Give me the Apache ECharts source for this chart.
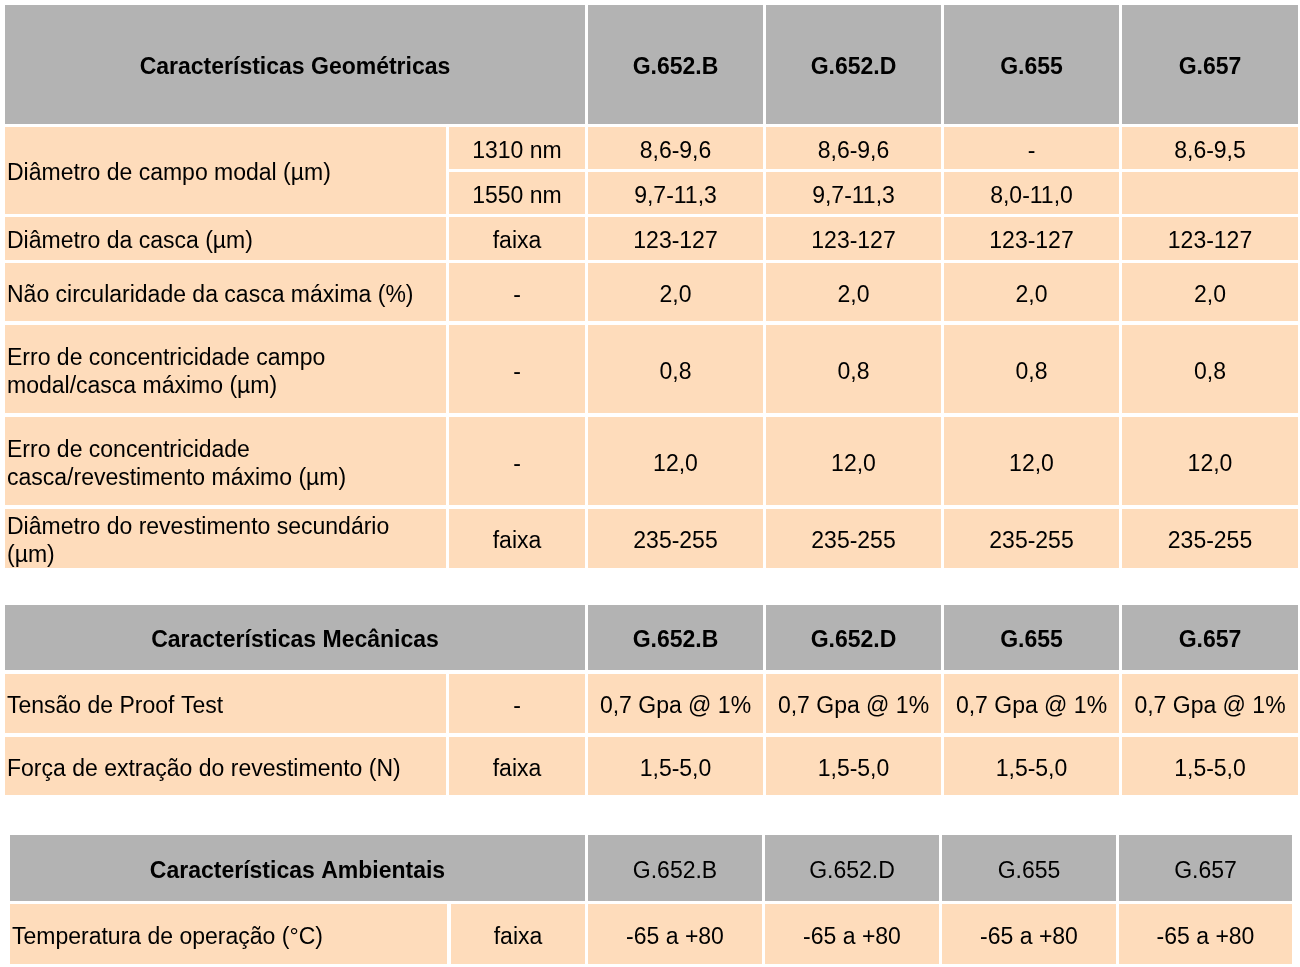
<!DOCTYPE html>
<html>
<head>
<meta charset="utf-8">
<script src="https://cdn.jsdelivr.net/npm/echarts@6/dist/echarts.min.js"></script>
<style>
  html, body { margin: 0; padding: 0; background: #fff; }
  #chart { width: 1300px; height: 967px; }
</style>
</head>
<body>
<div id="chart"></div>
<script>
// table contents
const models = ["G.652.B", "G.652.D", "G.655", "G.657"];

const geoTitle = "Características Geométricas";
const geoRows = [
  ["Diâmetro de campo modal (µm)", "1310 nm", "8,6-9,6", "8,6-9,6", "-", "8,6-9,5"],
  [null, "1550 nm", "9,7-11,3", "9,7-11,3", "8,0-11,0", ""],
  ["Diâmetro da casca (µm)", "faixa", "123-127", "123-127", "123-127", "123-127"],
  ["Não circularidade da casca máxima (%)", "-", "2,0", "2,0", "2,0", "2,0"],
  ["Erro de concentricidade campo\nmodal/casca máximo (µm)", "-", "0,8", "0,8", "0,8", "0,8"],
  ["Erro de concentricidade\ncasca/revestimento máximo (µm)", "-", "12,0", "12,0", "12,0", "12,0"],
  ["Diâmetro do revestimento secundário\n(µm)", "faixa", "235-255", "235-255", "235-255", "235-255"]
];

const mecTitle = "Características Mecânicas";
const mecRows = [
  ["Tensão de Proof Test", "-", "0,7 Gpa @ 1%", "0,7 Gpa @ 1%", "0,7 Gpa @ 1%", "0,7 Gpa @ 1%"],
  ["Força de extração do revestimento (N)", "faixa", "1,5-5,0", "1,5-5,0", "1,5-5,0", "1,5-5,0"]
];

const ambTitle = "Características Ambientais";
const ambRows = [
  ["Temperatura de operação (°C)", "faixa", "-65 a +80", "-65 a +80", "-65 a +80", "-65 a +80"]
];

// layout (pixel space of the value axes)
const colsA = [[5, 446], [449, 585], [588, 763], [766, 941], [944, 1119], [1122, 1298]];
const colsB = [[10, 447], [451, 585], [588, 762], [765, 939], [942, 1116], [1119, 1292]];
const geoY = [[5, 124], [127, 169], [172, 214], [217, 260], [263, 321], [325, 413], [417, 505], [509, 568]];
const mecY = [[605, 670], [674, 733], [737, 795]];
const ambY = [[835, 901], [904, 964]];

const GREY = "#b3b3b3";
const PEACH = "#fedcbb";
const FONT = '"Liberation Sans", Arial, sans-serif';

let cells = [];

function buildTable(title, rows, cols, ys, headBold) {
  // header
  cells.push({ x0: cols[0][0], x1: cols[1][1], y0: ys[0][0], y1: ys[0][1],
    text: title, bold: true, left: false, fill: GREY });
  models.forEach(function (m, i) {
    let c = cols[i + 2];
    cells.push({ x0: c[0], x1: c[1], y0: ys[0][0], y1: ys[0][1],
      text: m, bold: headBold, left: false, fill: GREY });
  });
  rows.forEach(function (r, ri) {
    let y = ys[ri + 1];
    if (r[0] !== null) {
      let end = ri;
      while (end + 1 < rows.length && rows[end + 1][0] === null) end++;
      cells.push({ x0: cols[0][0], x1: cols[0][1], y0: y[0], y1: ys[end + 1][1],
        text: r[0], bold: false, left: true, fill: PEACH });
    }
    for (let k = 1; k < 6; k++) {
      cells.push({ x0: cols[k][0], x1: cols[k][1], y0: y[0], y1: y[1],
        text: r[k], bold: false, left: false, fill: PEACH });
    }
  });
}

buildTable(geoTitle, geoRows, colsA, geoY, true);
buildTable(mecTitle, mecRows, colsA, mecY, true);
buildTable(ambTitle, ambRows, colsB, ambY, false);

const chart = echarts.init(document.getElementById("chart"));

chart.setOption({
  animation: false,
  grid: { left: 0, right: 0, top: 0, bottom: 0 },
  xAxis: { type: "value", min: 0, max: 1300, show: false },
  yAxis: { type: "value", min: 0, max: 967, inverse: true, show: false },
  series: [{
    type: "custom",
    silent: true,
    data: cells.map(function (c) { return [c.x0, c.y0, c.x1, c.y1]; }),
    renderItem: function (params, api) {
      let c = cells[params.dataIndex];
      let p0 = api.coord([api.value(0), api.value(1)]);
      let p1 = api.coord([api.value(2), api.value(3)]);
      let w = p1[0] - p0[0], h = p1[1] - p0[1];
      return {
        type: "group",
        children: [
          { type: "rect", shape: { x: p0[0], y: p0[1], width: w, height: h },
            style: { fill: c.fill } },
          { type: "text",
            style: {
              text: c.text,
              x: c.left ? p0[0] + 2 : p0[0] + w / 2,
              y: p0[1] + h / 2 + 3.5,
              textAlign: c.left ? "left" : "center",
              textVerticalAlign: "middle",
              align: c.left ? "left" : "center",
              verticalAlign: "middle",
              font: (c.bold ? "bold " : "") + "23px " + FONT,
              lineHeight: 28,
              fill: "#000"
            } }
        ]
      };
    }
  }]
});
</script>
</body>
</html>
